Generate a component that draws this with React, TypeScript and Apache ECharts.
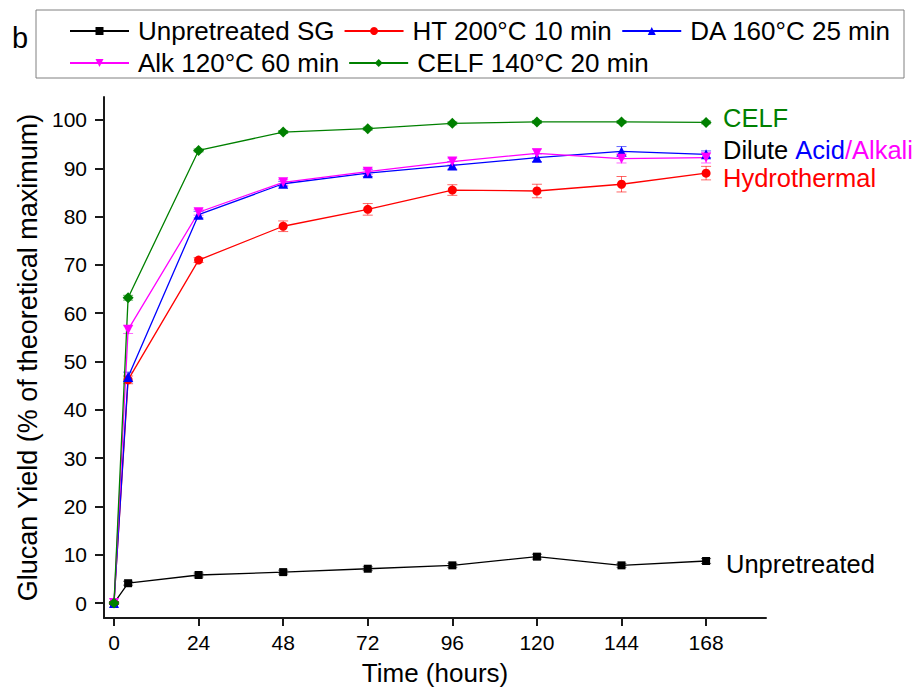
import React, { useEffect, useRef } from "react";
import * as echarts from "echarts";

const hours = [0, 4, 24, 48, 72, 96, 120, 144, 168];
const xTicks = [0, 24, 48, 72, 96, 120, 144, 168];
const yTicks = [0, 10, 20, 30, 40, 50, 60, 70, 80, 90, 100];

const seriesNames = [
  "Unpretreated SG",
  "HT 200°C 10 min",
  "DA 160°C 25 min",
  "Alk 120°C 60 min",
  "CELF 140°C 20 min",
];

const unpretreated = [0, 4.1, 5.8, 6.4, 7.1, 7.8, 9.6, 7.8, 8.7];
const hydrothermal = [0, 46.2, 71.0, 78.0, 81.5, 85.5, 85.3, 86.7, 89.0];
const diluteAcid = [0, 46.8, 80.4, 86.8, 89.0, 90.6, 92.2, 93.5, 92.9];
const alkali = [0, 56.6, 80.9, 87.1, 89.3, 91.4, 93.1, 92.0, 92.2];
const celf = [0, 63.2, 93.7, 97.5, 98.2, 99.3, 99.6, 99.6, 99.5];

const unpretreatedErr = [0.3, 0.4, 0.4, 0.4, 0.4, 0.4, 0.5, 0.4, 0.5];
const hydrothermalErr = [0.3, 0.8, 0.5, 1.1, 1.2, 1.1, 1.4, 1.6, 1.4];
const diluteAcidErr = [0.3, 1.0, 0.7, 0.5, 0.7, 0.8, 0.8, 1.0, 0.7];
const alkaliErr = [0.3, 0.8, 0.6, 0.6, 0.6, 0.7, 0.9, 0.9, 1.1];
const celfErr = [0.3, 0.5, 0.3, 0.3, 0.3, 0.3, 0.3, 0.3, 0.3];

const FONT = '"Liberation Sans", Arial, Helvetica, sans-serif';

function lineSeries(
  name: string,
  values: number[],
  color: string,
  symbol: string,
  symbolSize: number,
  symbolRotate = 0
) {
  return {
    type: "line",
    name,
    data: hours.map((h, i) => [h, values[i]]),
    symbol,
    symbolSize,
    symbolRotate,
    showAllSymbol: true,
    lineStyle: { color, width: 1.3 },
    itemStyle: { color },
    z: 3,
  };
}

function errorSeries(values: number[], errs: number[], color: string) {
  return {
    type: "custom",
    silent: true,
    z: 2,
    data: hours.map((h, i) => [h, values[i] - errs[i], values[i] + errs[i]]),
    encode: { x: 0, y: [1, 2] },
    renderItem: (_params: any, api: any) => {
      const x = api.value(0);
      const top = api.coord([x, api.value(2)]);
      const bot = api.coord([x, api.value(1)]);
      const w = 5;
      const style = { stroke: color, lineWidth: 1, opacity: 0.6 };
      return {
        type: "group",
        children: [
          { type: "line", shape: { x1: top[0], y1: top[1], x2: bot[0], y2: bot[1] }, style },
          { type: "line", shape: { x1: top[0] - w, y1: top[1], x2: top[0] + w, y2: top[1] }, style },
          { type: "line", shape: { x1: bot[0] - w, y1: bot[1], x2: bot[0] + w, y2: bot[1] }, style },
        ],
      };
    },
  };
}

export default function App() {
  const ref = useRef<HTMLDivElement>(null);

  useEffect(() => {
    if (!ref.current) return;
    const chart = echarts.init(ref.current, null, { renderer: "svg" });

    const legendCommon = {
      left: 69,
      orient: "horizontal",
      padding: 0,
      itemWidth: 59,
      itemHeight: 10,
      itemGap: 9,
      textStyle: {
        fontFamily: FONT,
        fontSize: 26,
        color: "#000",
        lineHeight: 30,
        padding: [0, 0, 0, 4],
      },
    };

    const option: any = {
      animation: false,
      backgroundColor: "#ffffff",
      textStyle: { fontFamily: FONT },
      grid: { left: 104, right: 153, top: 97, bottom: 82, containLabel: false },
      legend: [
        { ...legendCommon, top: 16, data: seriesNames.slice(0, 3) },
        { ...legendCommon, top: 48, data: seriesNames.slice(3) },
      ],
      xAxis: {
        type: "value",
        min: -2.84,
        max: 185,
        name: "Time (hours)",
        nameLocation: "middle",
        nameGap: 42,
        nameTextStyle: { fontFamily: FONT, fontSize: 26, color: "#000" },
        axisLine: { show: true, onZero: false, lineStyle: { color: "#1a1a1a", width: 2 } },
        axisTick: {
          show: true,
          inside: false,
          length: 8,
          customValues: xTicks,
          lineStyle: { color: "#1a1a1a", width: 2 },
        },
        axisLabel: {
          customValues: xTicks,
          fontFamily: FONT,
          fontSize: 21,
          color: "#000",
          margin: 14,
        },
        splitLine: { show: false },
      },
      yAxis: {
        type: "value",
        min: -3.1,
        max: 104.76,
        name: "Glucan Yield (% of theoretical maximum)",
        nameLocation: "middle",
        nameGap: 62,
        nameRotate: 90,
        nameTextStyle: { fontFamily: FONT, fontSize: 27, color: "#000" },
        axisLine: { show: true, onZero: false, lineStyle: { color: "#1a1a1a", width: 2 } },
        axisTick: {
          show: true,
          inside: false,
          length: 9,
          customValues: yTicks,
          lineStyle: { color: "#1a1a1a", width: 2 },
        },
        axisLabel: {
          customValues: yTicks,
          fontFamily: FONT,
          fontSize: 21,
          color: "#000",
          margin: 17,
        },
        splitLine: { show: false },
      },
      series: [
        errorSeries(unpretreated, unpretreatedErr, "#000000"),
        errorSeries(hydrothermal, hydrothermalErr, "#ff0000"),
        errorSeries(diluteAcid, diluteAcidErr, "#0000ff"),
        errorSeries(alkali, alkaliErr, "#ff00ff"),
        errorSeries(celf, celfErr, "#008000"),
        lineSeries(seriesNames[0], unpretreated, "#000000", "rect", 8),
        lineSeries(seriesNames[1], hydrothermal, "#ff0000", "circle", 9),
        lineSeries(seriesNames[2], diluteAcid, "#0000ff", "triangle", 10),
        lineSeries(seriesNames[3], alkali, "#ff00ff", "triangle", 10, 180),
        lineSeries(seriesNames[4], celf, "#008000", "diamond", 11),
      ],
      graphic: [
        {
          type: "rect",
          shape: { x: 36, y: 10, width: 868, height: 68 },
          style: { fill: "none", stroke: "#808080", lineWidth: 1 },
          silent: true,
        },
        {
          type: "text",
          x: 12,
          y: 38,
          style: { text: "b", fontFamily: FONT, fontSize: 29, fill: "#000", verticalAlign: "middle", align: "left" },
        },
        {
          type: "text",
          x: 723,
          y: 118,
          style: { text: "CELF", fontFamily: FONT, fontSize: 25.5, fill: "#008000", verticalAlign: "middle", align: "left" },
        },
        {
          type: "text",
          x: 723,
          y: 150,
          style: {
            text: "{k|Dilute }{b|Acid}{m|/Alkali}",
            fontFamily: FONT,
            fontSize: 25.5,
            verticalAlign: "middle",
            align: "left",
            rich: {
              k: { fill: "#000000", fontFamily: FONT, fontSize: 25.5 },
              b: { fill: "#0000ff", fontFamily: FONT, fontSize: 25.5 },
              m: { fill: "#ff00ff", fontFamily: FONT, fontSize: 25.5 },
            },
          },
        },
        {
          type: "text",
          x: 723,
          y: 178,
          style: { text: "Hydrothermal", fontFamily: FONT, fontSize: 25.5, fill: "#ff0000", verticalAlign: "middle", align: "left" },
        },
        {
          type: "text",
          x: 726,
          y: 564,
          style: { text: "Unpretreated", fontFamily: FONT, fontSize: 25.5, fill: "#000000", verticalAlign: "middle", align: "left" },
        },
      ],
    };

    chart.setOption(option);
    return () => chart.dispose();
  }, []);

  return (
    <div
      ref={ref}
      style={{ position: "absolute", left: 0, top: 0, width: 919, height: 700, background: "#fff" }}
    />
  );
}
